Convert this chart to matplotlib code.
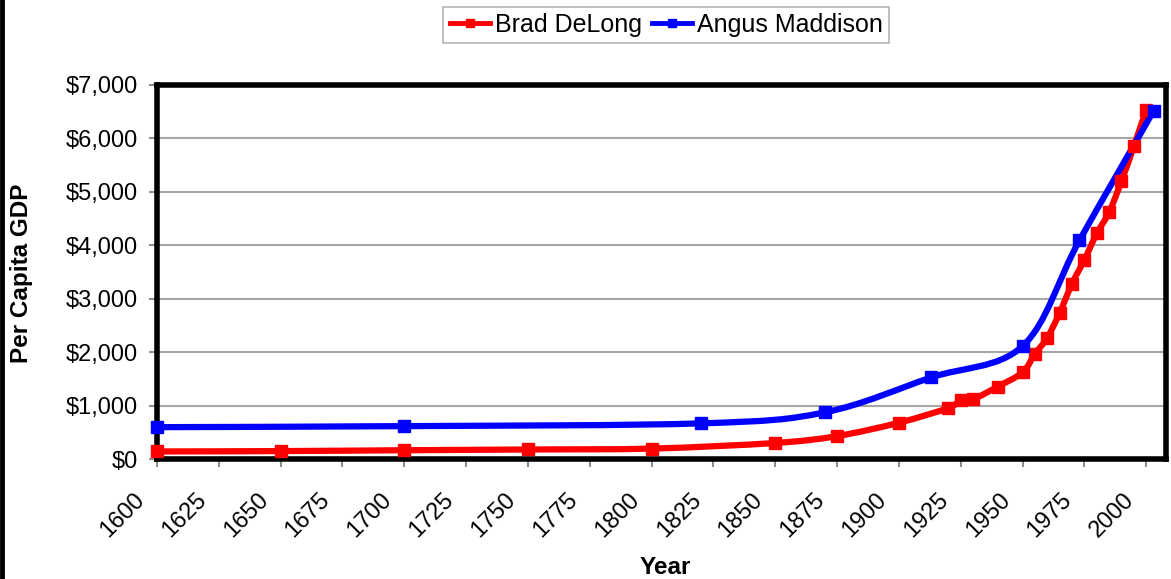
import numpy as np
import matplotlib.pyplot as plt
from matplotlib.path import Path
from matplotlib.patches import PathPatch
from matplotlib.lines import Line2D
from matplotlib.ticker import FuncFormatter
from matplotlib.transforms import ScaledTranslation

plt.rcParams['font.family'] = ['Liberation Sans', 'DejaVu Sans']

# Data (per capita GDP)
delong_years = [1600, 1650, 1700, 1750, 1800, 1850, 1875, 1900, 1920, 1925, 1930,
                1940, 1950, 1955, 1960, 1965, 1970, 1975, 1980, 1985, 1990, 1995, 2000]
delong_gdp = [141, 148, 164, 178, 195, 300, 429, 679, 956, 1108, 1120,
              1356, 1622, 1968, 2270, 2736, 3282, 3727, 4221, 4619, 5200, 5852, 6539]

maddison_years = [1600, 1700, 1820, 1870, 1913, 1950, 1973, 2003]
maddison_gdp = [596, 615, 667, 873, 1526, 2113, 4091, 6516]

x_ticks = list(range(1600, 2001, 25))
y_ticks = list(range(0, 7001, 1000))


# Excel-like smoothed line: cubic bezier through the data points
def smooth_path(xs, ys):
    pts = np.column_stack((xs, ys)).astype(float)
    n = len(pts)
    verts = [pts[0]]
    codes = [Path.MOVETO]
    for i in range(n - 1):
        p0 = pts[max(i - 1, 0)]
        p1 = pts[i]
        p2 = pts[i + 1]
        p3 = pts[min(i + 2, n - 1)]
        verts += [p1 + (p2 - p0) / 6, p2 - (p3 - p1) / 6, p2]
        codes += [Path.CURVE4] * 3
    return Path(verts, codes)


W, H = 1171, 579
fig = plt.figure(figsize=(W / 100, H / 100), dpi=100)
ax = fig.add_axes([157 / W, 1 - 459 / H, (1166 - 157) / W, (459 - 85) / H])

for years, gdp, col in [(delong_years, delong_gdp, '#FF0000'),
                        (maddison_years, maddison_gdp, '#0000FF')]:
    ax.add_patch(PathPatch(smooth_path(years, gdp), facecolor='none',
                           edgecolor=col, lw=4.5, zorder=3, capstyle='round'))
    ax.plot(years, gdp, 's', color=col, ms=8, zorder=4, clip_on=False)

ax.set_xlim(1600, 2008)
ax.set_ylim(0, 7000)
ax.set_xticks(x_ticks)
ax.set_xticklabels([str(t) for t in x_ticks], rotation=45, ha='right')
ax.set_yticks(y_ticks)
ax.yaxis.set_major_formatter(FuncFormatter(lambda v, p: '${:,.0f}'.format(v)))
ax.tick_params(axis='both', labelsize=17, color='#8C8C8C', length=6, width=1.5)
ax.tick_params(axis='y', pad=8)
ax.tick_params(axis='x', pad=14)

# shift the rotated year labels a little left
shift = ScaledTranslation(-8 / 100, -2 / 100, fig.dpi_scale_trans)
for lbl in ax.get_xticklabels():
    lbl.set_transform(lbl.get_transform() + shift)

ax.yaxis.grid(True, color='#A6A6A6', lw=1.5)
ax.set_axisbelow(True)
for s in ax.spines.values():
    s.set_linewidth(4)
    s.set_color('black')

fig.text(665 / W, 1 - 567 / H, 'Year', fontsize=17.5, fontweight='bold',
         ha='center', va='center')
fig.text(22 / W, 1 - 273 / H, 'Per Capita GDP', fontsize=17.5, fontweight='bold',
         rotation=90, ha='center', va='center')

handles = [Line2D([], [], color='#FF0000', marker='s', lw=3.5, ms=6),
           Line2D([], [], color='#0000FF', marker='s', lw=3.5, ms=6)]
leg = fig.legend(handles, ['Brad DeLong', 'Angus Maddison'], ncol=2, fontsize=18,
                 loc='center', bbox_to_anchor=(666 / W, 1 - 25 / H),
                 frameon=True, fancybox=False, edgecolor='#A0A0A0',
                 handlelength=1.6, handletextpad=0.2, columnspacing=0.4,
                 borderpad=0.25, borderaxespad=0)
leg.get_frame().set_linewidth(1.2)

# border on the left edge of the picture
fig.add_artist(Line2D([0.002, 0.002], [0, 1], transform=fig.transFigure,
                      color='black', lw=3.5))

fig.savefig('out.png', dpi=100)
